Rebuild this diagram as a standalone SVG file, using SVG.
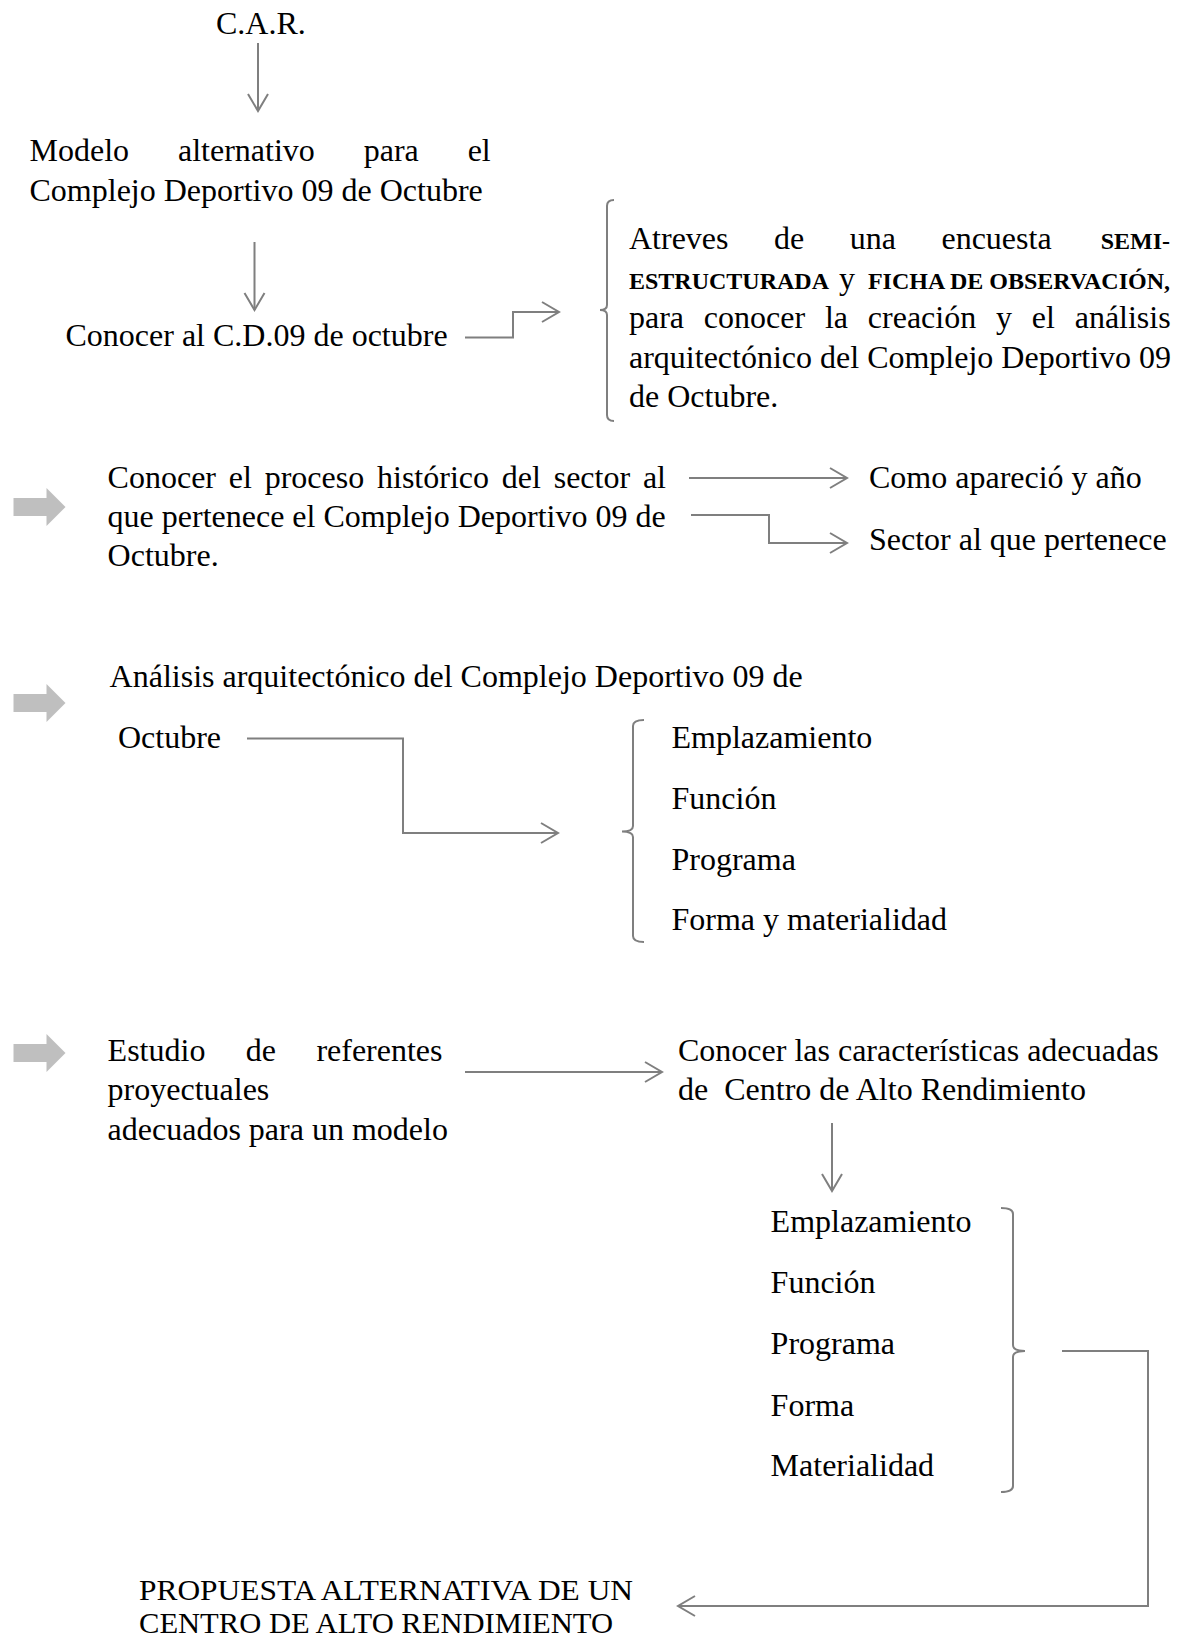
<svg xmlns="http://www.w3.org/2000/svg" width="1179" height="1638" viewBox="0 0 1179 1638">
<defs>
<style>
text{font-family:"Liberation Serif","Times New Roman",serif;font-size:32px;fill:#000}
.b{font-weight:bold;font-size:24px}
.p{font-size:30px}
.ln{fill:none;stroke:#7f7f7f;stroke-width:2}
.blk{fill:#bfbfbf;stroke:none}
</style>
<marker id="ah" markerUnits="userSpaceOnUse" markerWidth="22" markerHeight="24" viewBox="0 0 22 24" refX="19" refY="12" orient="auto">
<path d="M2,2 L19,12 L2,22" fill="none" stroke="#7f7f7f" stroke-width="2"/>
</marker>
<polygon id="blockarrow" points="0,-9 33,-9 33,-19 52,0 33,19 33,9 0,9"/>
</defs>
<rect width="1179" height="1638" fill="#fff"/>

<g id="car"><text x="216" y="34">C.A.R.</text></g>
<g id="modelo">
<text x="29.5" y="161" word-spacing="40.9">Modelo alternativo para el</text>
<text x="29.5" y="201">Complejo Deportivo 09 de Octubre</text>
</g>
<g id="conocer-cd"><text x="65.5" y="346">Conocer al C.D.09 de octubre</text></g>
<g id="brace-encuesta"><path class="ln" d="M614,200 Q607,200 607,206 V305 Q607,310 600,310 Q607,310 607,315 V415 Q607,421 614,421"/></g>
<g id="encuesta">
<text x="629" y="249" word-spacing="37.5">Atreves de una encuesta</text>
<text class="b" x="1170" y="249" text-anchor="end">SEMI-</text>
<text class="b" x="629" y="288.5">ESTRUCTURADA</text>
<text x="839" y="288.5">y</text>
<text class="b" x="1170" y="288.5" text-anchor="end">FICHA DE OBSERVACIÓN,</text>
<text x="629" y="328" word-spacing="11.8">para conocer la creación y el análisis</text>
<text x="629" y="367.5">arquitectónico del Complejo Deportivo 09</text>
<text x="629" y="407">de Octubre.</text>
</g>

<g id="bullet1"><use href="#blockarrow" class="blk" x="13.5" y="507"/></g>
<g id="historico">
<text x="107.6" y="488" word-spacing="4.8">Conocer el proceso histórico del sector al</text>
<text x="107.6" y="527">que pertenece el Complejo Deportivo 09 de</text>
<text x="107.6" y="566">Octubre.</text>
</g>
<g id="como"><text x="869" y="488">Como apareció y año</text></g>
<g id="sector"><text x="869" y="550">Sector al que pertenece</text></g>

<g id="bullet2"><use href="#blockarrow" class="blk" x="13.5" y="703"/></g>
<g id="analisis">
<text x="109.6" y="687">Análisis arquitectónico del Complejo Deportivo 09 de</text>
<text x="118" y="748">Octubre</text>
</g>
<g id="brace-analisis"><path class="ln" d="M644,720 Q633,720 633,726 V826 Q633,831.5 622,831.5 Q633,831.5 633,837 V936 Q633,942 644,942"/></g>
<g id="items-analisis">
<text x="671.5" y="748">Emplazamiento</text>
<text x="671.5" y="809">Función</text>
<text x="671.5" y="870">Programa</text>
<text x="671.5" y="930">Forma y materialidad</text>
</g>

<g id="bullet3"><use href="#blockarrow" class="blk" x="13.5" y="1053"/></g>
<g id="estudio">
<text x="107.6" y="1061" word-spacing="32.4">Estudio de referentes</text>
<text x="107.6" y="1100">proyectuales</text>
<text x="107.6" y="1140">adecuados para un modelo</text>
</g>
<g id="caracteristicas">
<text x="678" y="1061">Conocer las características adecuadas</text>
<text x="678" y="1100" xml:space="preserve">de  Centro de Alto Rendimiento</text>
</g>
<g id="items-car">
<text x="770.6" y="1232">Emplazamiento</text>
<text x="770.6" y="1293">Función</text>
<text x="770.6" y="1354">Programa</text>
<text x="770.6" y="1416">Forma</text>
<text x="770.6" y="1476">Materialidad</text>
</g>
<g id="bracket-car"><path class="ln" d="M1001,1208 Q1013,1208 1013,1214 V1345 Q1013,1351 1025,1351 Q1013,1351 1013,1357 V1486 Q1013,1492 1001,1492"/></g>
<g id="propuesta">
<text class="p" x="139" y="1600" textLength="494" lengthAdjust="spacingAndGlyphs">PROPUESTA ALTERNATIVA DE UN</text>
<text class="p" x="139" y="1633" textLength="474" lengthAdjust="spacingAndGlyphs">CENTRO DE ALTO RENDIMIENTO</text>
</g>

<g id="connectors">
<line class="ln" x1="258" y1="43" x2="258" y2="111" marker-end="url(#ah)"/>
<line class="ln" x1="254.5" y1="242" x2="254.5" y2="310" marker-end="url(#ah)"/>
<path class="ln" d="M465,337.5 H513 V312 H559" marker-end="url(#ah)"/>
<line class="ln" x1="689" y1="478" x2="847" y2="478" marker-end="url(#ah)"/>
<path class="ln" d="M691,515 H769 V543 H847" marker-end="url(#ah)"/>
<path class="ln" d="M247,738.5 H403 V833 H558" marker-end="url(#ah)"/>
<line class="ln" x1="465" y1="1072" x2="662" y2="1072" marker-end="url(#ah)"/>
<line class="ln" x1="832" y1="1123" x2="832" y2="1191" marker-end="url(#ah)"/>
<path class="ln" d="M1062,1351 H1148 V1606 H678" marker-end="url(#ah)"/>
</g>
</svg>
